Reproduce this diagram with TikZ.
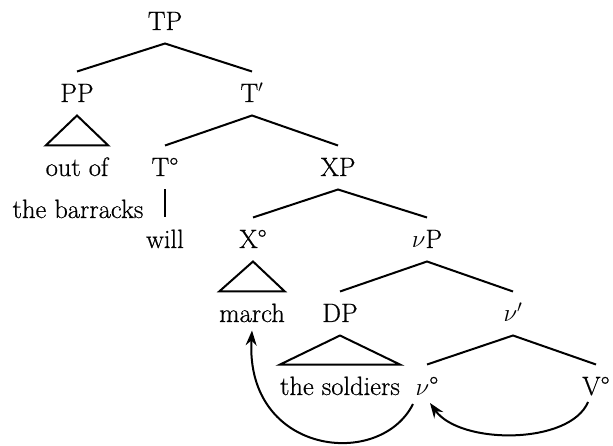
\documentclass[tikz,border=0pt]{standalone}
\usepackage{fontspec}
\setmainfont{Latin Modern Roman}[FakeBold=0.6]
\usetikzlibrary{arrows.meta}
\begin{document}
\begin{tikzpicture}[x=1pt,y=-1pt,
  lbl/.style={font=\fontsize{26.5}{31}\selectfont, text height=17pt, text depth=0pt,
    inner sep=0pt, outer ysep=13.5pt, outer xsep=0pt, anchor=base},
  branch/.style={line width=2pt},
  movearrow/.style={line width=2pt, -{Stealth[length=15pt,width=11pt,inset=5pt]}}]
\useasboundingbox (0,0) rectangle (613,446);
% nodes
\node[lbl] (TP) at (165,30) {TP};
\node[lbl] (PP) at (77,102) {PP};
\node[lbl] (Tbar) at (252,102) {T$'$};
\node[lbl] (outof) at (77,176) {out of};
\node[lbl] (barracks) at (78,218) {the barracks};
\node[lbl] (T0) at (165,176) {T°};
\node[lbl] (XP) at (338,176) {XP};
\node[lbl] (will) at (165,248) {will};
\node[lbl] (X0) at (253,248) {X°};
\node[lbl] (vP) at (427,248) {$\nu$P};
\node[lbl] (march) at (252,322) {march};
\node[lbl] (DP) at (340,322) {DP};
\node[lbl] (vbar) at (513,322) {$\nu'$};
\node[lbl] (soldiers) at (340,395) {the soldiers};
\node[lbl] (v0) at (427,395) {$\nu$°};
\node[lbl] (V0) at (596,395) {V°};
% branches
\draw[branch] (PP.north) -- (TP.south) -- (Tbar.north);
\draw[branch] (PP.south) -- (outof.north east) -- (outof.north west) -- cycle;
\draw[branch] (T0.north) -- (Tbar.south) -- (XP.north);
\draw[branch] (T0.south) -- (will.north);
\draw[branch] (X0.north) -- (XP.south) -- (vP.north);
\draw[branch] (X0.south) -- (march.north east) -- (march.north west) -- cycle;
\draw[branch] (DP.north) -- (vP.south) -- (vbar.north);
\draw[branch] (DP.south) -- (soldiers.north east) -- (soldiers.north west) -- cycle;
\draw[branch] (v0.north) -- (vbar.south) -- (V0.north);
% movement arrows
\draw[movearrow] ([xshift=-14pt,yshift=4.5pt]v0.south) .. controls (380,470) and (245,455) .. ([yshift=5pt]march.south);
\draw[movearrow] ([xshift=-8pt,yshift=6.5pt]V0.south) .. controls (570,445) and (460,445) .. ([xshift=3pt,yshift=5.5pt]v0.south);
\end{tikzpicture}
\end{document}
